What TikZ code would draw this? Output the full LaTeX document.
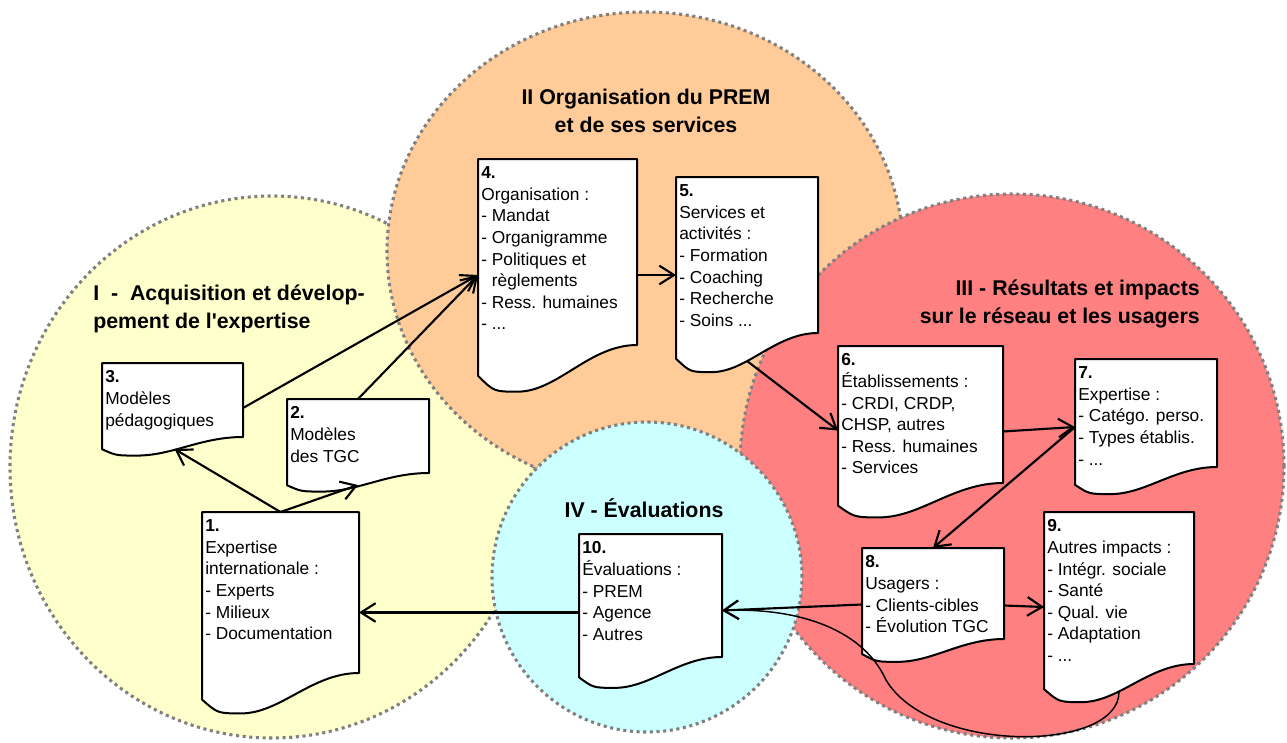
\documentclass[tikz,border=0pt]{standalone}
\usepackage{fontspec}
\setmainfont{Liberation Sans}
\usetikzlibrary{arrows.meta,calc}
\definecolor{cjaune}{HTML}{FFFFCC}
\definecolor{corange}{HTML}{FFCC99}
\definecolor{crouge}{HTML}{FF8080}
\definecolor{cbleu}{HTML}{CCFFFF}
\tikzset{
	zone/.style={draw=gray,line width=2.3pt,dash pattern=on 2.3pt off 2.7pt},
	docbox/.style 2 args={anchor=north west,inner sep=0pt,outer sep=0pt,minimum width=#1,minimum height=#2},
	page/.style={fill=white,draw=black,line width=1.5pt,line join=round},
	doctext/.style={anchor=north west,inner xsep=2.25pt,inner ysep=5.6pt,align=left,font=\fontsize{13}{16.2}\selectfont},
	titre/.style={inner sep=0pt,font=\bfseries\fontsize{16}{20.5}\selectfont},
	fleche/.style={line width=1.6pt,line join=round,-{Straight Barb[length=11pt,width=14pt]}}
}
\newcommand{\docpage}[1]{%
	\draw[page] let \p1=(#1.north west), \p2=(#1.south east), \n1={0.165*(\y1-\y2)}, \n2={\x2-\x1} in
		(\p1) -- (\x2,\y1) -- (\p2)
		.. controls ({\x2-0.3*\n2},\y2) and ({\x1+0.5*\n2},{\y2-1.52*\n1}) .. ({\x1+0.25*\n2},{\y2-1.52*\n1})
		.. controls ({\x1+0.1*\n2},{\y2-1.52*\n1}) .. (\x1,{\y2-\n1}) -- cycle;}

\begin{document}
\begin{tikzpicture}[x=0.75pt,y=-0.75pt]
	\useasboundingbox (0,0) rectangle (1287,742);

	\fill[cjaune] (272,467) ellipse [x radius=196.5pt, y radius=203.25pt];
	\draw[zone] (272,467) ellipse [x radius=196.5pt, y radius=203.25pt];
	\fill[corange] (645,251) ellipse [x radius=193.5pt, y radius=179.25pt];
	\draw[zone] (645,251) ellipse [x radius=193.5pt, y radius=179.25pt];
	\fill[crouge] (1012,466) circle [radius=204pt];
	\draw[zone] (1012,466) circle [radius=204pt];
	\fill[cbleu] (647,577) circle [radius=116.25pt];
	\draw[zone] (647,577) circle [radius=116.25pt];

	\node[titre,anchor=north west,align=left] (tI) at (93,285) {I~~-~~Acquisition et dévelop-\\pement de l\textquotesingle expertise};
	\node[titre,anchor=north,align=center] (tII) at (646,89) {II Organisation du PREM\\et de ses services};
	\node[titre,anchor=north east,align=right] (tIII) at (1200,280) {III - Résultats et impacts\\sur le réseau et les usagers};
	\node[titre,anchor=base] (tIV) at (644,517) {IV - Évaluations};

	\node[docbox={117.75pt}{120.75pt}] (d1) at (202,512) {};
	\docpage{d1}
	\node[doctext] (t1) at (d1.north west) {\textbf{1.}\\Expertise\\internationale :\\- Experts\\- Milieux\\- Documentation};

	\node[docbox={106.5pt}{55.5pt}] (d2) at (287,399) {};
	\docpage{d2}
	\node[doctext] (t2) at (d2.north west) {\textbf{2.}\\Modèles\\des TGC};

	\node[docbox={105.75pt}{55.5pt}] (d3) at (102,363) {};
	\docpage{d3}
	\node[doctext] (t3) at (d3.north west) {\textbf{3.}\\Modèles\\pédagogiques};

	\node[docbox={119.25pt}{139.5pt}] (d4) at (478,159) {};
	\docpage{d4}
	\node[doctext] (t4) at (d4.north west) {\textbf{4.}\\Organisation :\\- Mandat\\- Organigramme\\- Politiques et\\\phantom{-}\ règlements\\- Ress. humaines\\- ...};

	\node[docbox={106.5pt}{117pt}] (d5) at (676,177) {};
	\docpage{d5}
	\node[doctext] (t5) at (d5.north west) {\textbf{5.}\\Services et\\activités :\\- Formation\\- Coaching\\- Recherche\\- Soins ...};

	\node[docbox={123.75pt}{102.75pt}] (d6) at (838,346) {};
	\docpage{d6}
	\node[doctext] (t6) at (d6.north west) {\textbf{6.}\\Établissements :\\- CRDI, CRDP,\\CHSP, autres\\- Ress. humaines\\- Services};

	\node[docbox={106.5pt}{81pt}] (d7) at (1075,359) {};
	\docpage{d7}
	\node[doctext] (t7) at (d7.north west) {\textbf{7.}\\Expertise :\\- Catégo. perso.\\- Types établis.\\- ...};

	\node[docbox={106.5pt}{68.25pt}] (d8) at (862,548) {};
	\docpage{d8}
	\node[doctext] (t8) at (d8.north west) {\textbf{8.}\\Usagers :\\- Clients-cibles\\- Évolution TGC};

	\node[docbox={112.5pt}{114pt}] (d9) at (1044,512) {};
	\docpage{d9}
	\node[doctext] (t9) at (d9.north west) {\textbf{9.}\\Autres impacts :\\- Intégr. sociale\\- Santé\\- Qual. vie\\- Adaptation\\- ...};

	\node[docbox={107.25pt}{92.25pt}] (d10) at (579,534) {};
	\docpage{d10}
	\node[doctext] (t10) at (d10.north west) {\textbf{10.}\\Évaluations :\\- PREM\\- Agence\\- Autres};

	\coordinate (in4) at ($(d4.north west)+(0,116)$);
	\coordinate (in7) at ($(d7.west)+(0,14)$);
	\coordinate (in10) at ($(d10.east)+(0,15)$);

	\draw[fleche] ($(d3.east)+(0,8)$) -- (in4);
	\draw[fleche] (d2.north) -- (in4);
	\draw[fleche] (in4 -| d4.east) -- (in4 -| d5.west);
	\draw[fleche] (d1.north) -- ($(d3.south)+(2,12)$);
	\draw[fleche] (d1.north) -- ($(d2.south)+(0,12)$);
	\draw[fleche] ($(d5.south)+(0,28)$) -- ($(d6.west)+(0,16)$);
	\draw[fleche] ($(d6.east)+(0,17)$) -- (in7);
	\draw[fleche,{Straight Barb[length=11pt,width=14pt]}-] (d8.north) -- (in7);
	\draw[fleche] ($(d8.east)+(0,12)$) -- ($(d9.west)+(0,19)$);
	\draw[fleche] ($(d8.west)+(0,11)$) -- (in10);
	\draw[fleche,line width=1.1pt] ($(d9.south)+(0,28)$) .. controls +(0,60) and +(45,75) .. ++(-233,-12)
		.. controls +(-25,-55) and +(68,-3) .. (in10);
	\draw[fleche] ($(d10.west)+(0,17)$) coordinate (e10) -- (e10 -| d1.east);
\end{tikzpicture}
\end{document}
